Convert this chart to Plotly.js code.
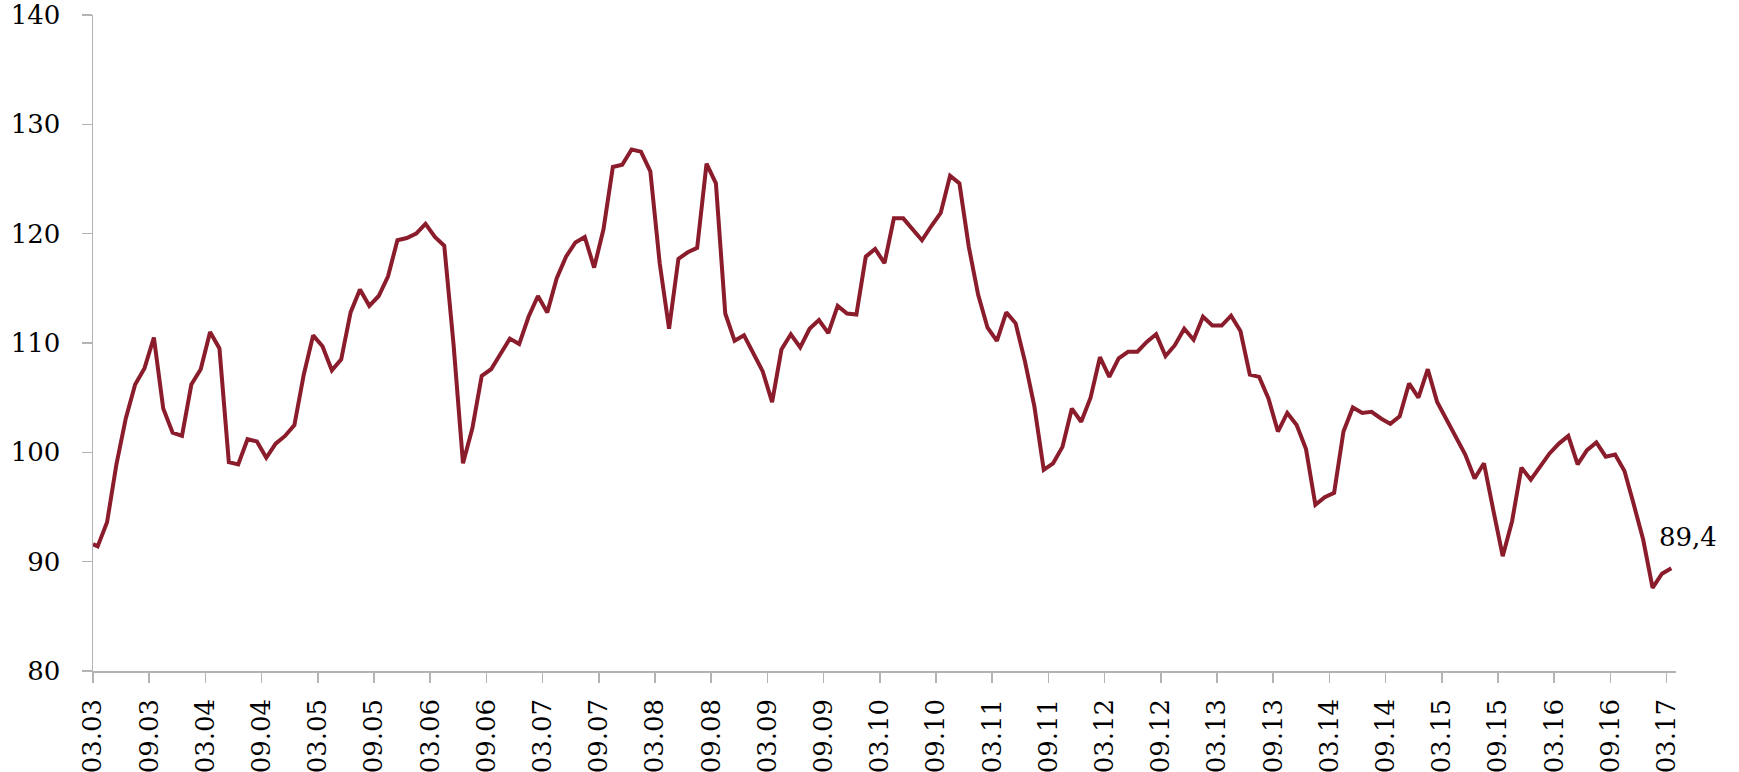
<!DOCTYPE html>
<html>
<head>
<meta charset="utf-8">
<script src="https://cdn.plot.ly/plotly-3.0.1.min.js"></script>
<style>
  html, body { margin: 0; padding: 0; background: #fff; }
  #plot1 { width: 1739px; height: 772px; }
</style>
</head>
<body>
<div id="plot1"></div>
<script>
// monthly index, 03.03 .. 03.17 (the line opens with one extra value on the axis)
var startValue = 91.6;
var indexValues = [
  91.4, 93.6, 98.9, 103.1, 106.2, 107.7, 110.5, 104.0, 101.8, 101.5, 106.2, 107.6,
  111.0, 109.5, 99.1, 98.9, 101.2, 101.0, 99.5, 100.8, 101.5, 102.5, 107.1, 110.7,
  109.7, 107.5, 108.5, 112.8, 114.9, 113.4, 114.3, 116.1, 119.4, 119.6, 120.0, 120.9,
  119.7, 118.9, 109.8, 99.0, 102.2, 107.0, 107.6, 109.0, 110.4, 109.9, 112.4, 114.3,
  112.8, 115.9, 117.9, 119.2, 119.7, 116.9, 120.4, 126.1, 126.3, 127.7, 127.5, 125.7,
  117.3, 111.3, 117.7, 118.3, 118.7, 126.4, 124.6, 112.7, 110.2, 110.7, 109.1, 107.4,
  104.6, 109.4, 110.8, 109.6, 111.3, 112.1, 110.9, 113.4, 112.7, 112.6, 117.9, 118.6,
  117.3, 121.4, 121.4, 120.4, 119.4, 120.7, 121.9, 125.3, 124.6, 118.8, 114.4, 111.4,
  110.2, 112.8, 111.8, 108.3, 104.2, 98.4, 99.0, 100.5, 104.0, 102.8, 105.0, 108.7,
  106.9, 108.6, 109.2, 109.2, 110.1, 110.8, 108.8, 109.8, 111.3, 110.3, 112.4, 111.6,
  111.6, 112.5, 111.1, 107.1, 106.9, 104.9, 101.9, 103.6, 102.5, 100.3, 95.2, 95.9,
  96.3, 101.9, 104.1, 103.6, 103.7, 103.1, 102.6, 103.3, 106.3, 105.0, 107.6, 104.6,
  103.0, 101.3, 99.8, 97.6, 99.0, 94.7, 90.5, 93.7, 98.6, 97.5, 98.7, 99.9,
  100.8, 101.5, 98.9, 100.2, 100.9, 99.6, 99.8, 98.3, 95.2, 92.0, 87.6, 88.9,
  89.4
];
var tickLabels = [
  '03.03', '09.03', '03.04', '09.04', '03.05', '09.05', '03.06', '09.06',
  '03.07', '09.07', '03.08', '09.08', '03.09', '09.09', '03.10', '09.10',
  '03.11', '09.11', '03.12', '09.12', '03.13', '09.13', '03.14', '09.14',
  '03.15', '09.15', '03.16', '09.16', '03.17'
];
var yTicks = [80, 90, 100, 110, 120, 130, 140];

var lineColor = '#8a1c2c';
var axisGrey = '#b3b3b3';
var labelFont = {family: 'DejaVu Serif', size: 26, color: '#000'};

// points sit in the middle of each month, ticks on month boundaries
var xs = [0];
var ys = [startValue];
for (var i = 0; i < indexValues.length; i++) {
  xs.push(i + 0.5);
  ys.push(indexValues[i]);
}
var tickPos = tickLabels.map(function (t, i) { return i * 6; });

var lastX = xs[xs.length - 1];
var lastY = ys[ys.length - 1];

var trace = {
  x: xs,
  y: ys,
  type: 'scatter',
  mode: 'lines',
  line: {color: lineColor, width: 4},
  hoverinfo: 'skip'
};

var layout = {
  width: 1739,
  height: 772,
  margin: {l: 93, r: 63, t: 15, b: 101},
  paper_bgcolor: '#fff',
  plot_bgcolor: '#fff',
  showlegend: false,
  xaxis: {
    range: [0, indexValues.length],
    tickmode: 'array',
    tickvals: tickPos,
    ticktext: tickLabels,
    tickangle: -90,
    ticks: 'outside',
    ticklen: 10,
    tickcolor: axisGrey,
    tickwidth: 1.5,
    showline: true,
    linecolor: axisGrey,
    linewidth: 1.5,
    showgrid: false,
    zeroline: false,
    tickfont: labelFont,
    ticklabelstandoff: 6
  },
  yaxis: {
    range: [80, 140],
    tickmode: 'array',
    tickvals: yTicks,
    ticks: 'outside',
    ticklen: 10,
    tickcolor: axisGrey,
    tickwidth: 1.5,
    showline: true,
    linecolor: axisGrey,
    linewidth: 1.5,
    showgrid: false,
    zeroline: false,
    tickfont: labelFont,
    ticklabelstandoff: 16
  },
  annotations: [{
    x: lastX,
    y: lastY,
    xref: 'x',
    yref: 'y',
    text: String(lastY).replace('.', ','),
    showarrow: false,
    xanchor: 'center',
    yanchor: 'middle',
    xshift: 17,
    yshift: 31,
    font: labelFont
  }]
};

Plotly.newPlot('plot1', [trace], layout, {staticPlot: true, displayModeBar: false});
</script>
</body>
</html>
